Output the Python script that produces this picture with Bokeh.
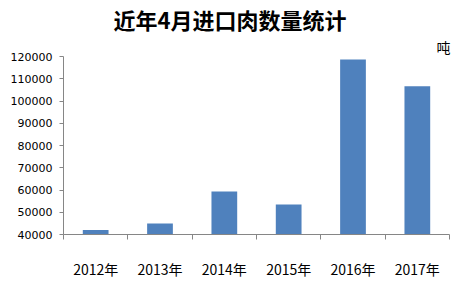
from bokeh.plotting import figure
from bokeh.models import ColumnDataSource, FixedTicker, Title, Range1d, BasicTickFormatter
from bokeh.embed import file_html
from bokeh.resources import INLINE

categories = ["2012年", "2013年", "2014年", "2015年", "2016年", "2017年"]
values = [42000, 45000, 59300, 53500, 118700, 106600]
y_ticks = [40000, 50000, 60000, 70000, 80000, 90000, 100000, 110000, 120000]
title_text = "近年4月进口肉数量统计"
unit_text = "吨"

xs = [i + 0.5 for i in range(len(categories))]
src = ColumnDataSource(dict(x=xs, top=values, cat=categories))

p = figure(width=472, height=282, output_backend="svg", toolbar_location=None,
           x_range=Range1d(0, len(categories)), y_range=Range1d(40000, 120000),
           min_border_left=63, min_border_right=23, min_border_top=0, min_border_bottom=48)
p.title.visible = False
p.outline_line_color = None
p.xgrid.visible = False
p.ygrid.visible = False
p.background_fill_color = "white"
p.border_fill_color = "white"

p.vbar(x="x", top="top", bottom=40000, width=0.40, source=src,
       fill_color="#4F81BD", line_color=None)

axis_color = "#868686"
xa = p.xaxis[0]
xa.ticker = FixedTicker(ticks=xs, minor_ticks=list(range(len(categories) + 1)))
xa.major_label_overrides = {x: c for x, c in zip(xs, categories)}
xa.major_tick_line_color = None
xa.minor_tick_line_color = axis_color
xa.minor_tick_out = 5
xa.minor_tick_in = 0
xa.axis_line_color = axis_color
xa.major_label_standoff = 18
xa.major_label_text_font = "Noto Sans CJK SC"
xa.major_label_text_font_size = "14px"
xa.major_label_text_color = "#000000"

ya = p.yaxis[0]
ya.ticker = FixedTicker(ticks=y_ticks)
ya.formatter = BasicTickFormatter(use_scientific=False)
ya.minor_tick_line_color = None
ya.major_tick_line_color = axis_color
ya.major_tick_out = 4
ya.major_tick_in = 0
ya.axis_line_color = axis_color
ya.major_label_standoff = 7
ya.major_label_text_font = "DejaVu Sans"
ya.major_label_text_font_size = "11px"
ya.major_label_text_color = "#000000"

unit_title = Title(text=unit_text, align="left", offset=373, standoff=0,
                   text_font="Noto Sans CJK SC", text_font_style="normal",
                   text_font_size="14px", text_line_height=0.9, text_color="#000000")
main_title = Title(text=title_text, align="left", offset=50, standoff=0,
                   text_font="Noto Sans CJK SC", text_font_style="bold",
                   text_font_size="22px", text_line_height=0.8, text_color="#000000")
p.add_layout(unit_title, "above")
p.add_layout(main_title, "above")

open("out.html", "w").write(file_html(p, INLINE))
